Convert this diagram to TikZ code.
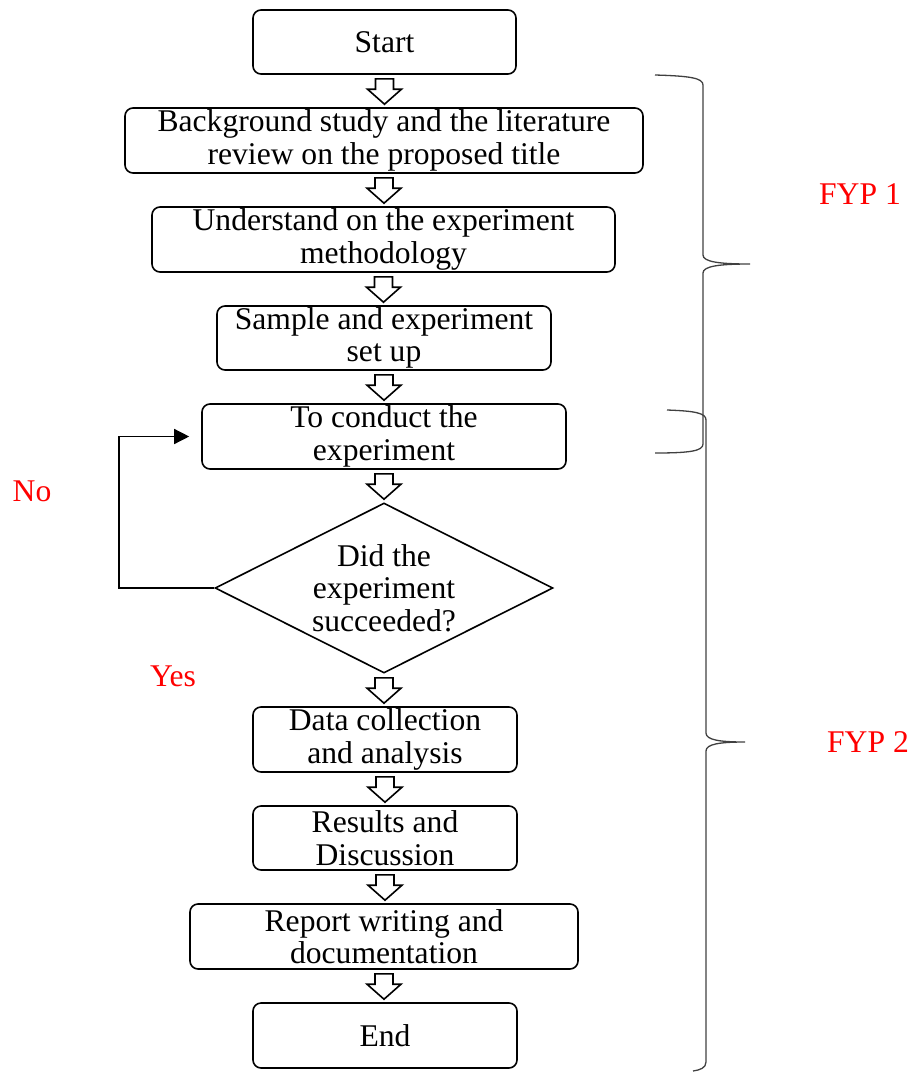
\documentclass[tikz,border=0pt]{standalone}
\usepackage{fontspec}
\setmainfont{Liberation Serif}
\usetikzlibrary{shapes.geometric,calc,arrows.meta}
\tikzset{
  base/.style={font=\fontsize{31.6pt}{32.5pt}\selectfont, align=center, inner sep=0pt},
  stepbox/.style={base, draw, line width=1.6pt, rounded corners=8pt},
  decision/.style={base, draw, line width=1.6pt, diamond, aspect=2, minimum width=338pt, minimum height=170pt},
  harr/.style={draw, line width=1.6pt, line join=miter, fill=white},
  brace/.style={draw=black!75, line width=1.3pt},
  redlabel/.style={base, text=red},
  loopline/.style={draw, line width=1.4pt, -{Triangle[length=15pt,width=15pt]}, shorten >=12pt}
}
\newcommand{\hollowarr}[2]{%
  \path[harr] let \p1=(#1.south), \p2=(#2.north) in
  (\x1-9pt,\y1-4pt) -- (\x1+9pt,\y1-4pt) -- (\x1+9pt,\y2+18pt) -- (\x1+17pt,\y2+18pt)
  -- (\x1,\y2+3pt) -- (\x1-17pt,\y2+18pt) -- (\x1-9pt,\y2+18pt) -- cycle;}
\begin{document}
\begin{tikzpicture}[x=1pt,y=1pt]
\useasboundingbox (0,0) rectangle (915,-1072);
\node[stepbox, minimum width=263pt, minimum height=64pt] (start) at (384.5,-42) {Start};
\node[stepbox, minimum width=518pt, minimum height=65pt] (bg) at (384,-140.5) {Background study and the literature\\review on the proposed title};
\node[stepbox, minimum width=463pt, minimum height=65pt] (und) at (383.5,-239.5) {Understand on the experiment\\methodology};
\node[stepbox, minimum width=334pt, minimum height=64pt] (samp) at (384,-338) {Sample and experiment\\set up};
\node[stepbox, minimum width=364pt, minimum height=65pt] (cond) at (384,-436.5) {To conduct the\\experiment};
\node[decision] (dia) at (384,-588) {Did the\\experiment\\succeeded?};
\node[stepbox, minimum width=264pt, minimum height=65pt] (data) at (385,-739.5) {Data collection\\and analysis};
\node[stepbox, minimum width=264pt, minimum height=64pt] (res) at (385,-838) {Results and\\Discussion};
\node[stepbox, minimum width=388pt, minimum height=65pt] (rep) at (384,-936.5) {Report writing and\\documentation};
\node[stepbox, minimum width=264pt, minimum height=65pt] (end) at (385,-1035.5) {End};

\hollowarr{start}{bg}
\hollowarr{bg}{und}
\hollowarr{und}{samp}
\hollowarr{samp}{cond}
\hollowarr{cond}{dia}
\hollowarr{dia}{data}
\hollowarr{data}{res}
\hollowarr{res}{rep}
\hollowarr{rep}{end}

\coordinate (loopx) at (119,-588);
\draw[loopline] (dia.west) -- (loopx) |- (cond.west);

\node[redlabel] (no) at (32,-491) {No};
\node[redlabel] (yes) at (173,-676) {Yes};
\node[redlabel] (fyp1) at (860,-194) {FYP 1};
\node[redlabel] (fyp2) at (868,-742) {FYP 2};

% brace FYP 1
\draw[brace] (655,-75) .. controls (690,-76) and (703,-78) .. (703,-85)
  -- (703,-255) .. controls (703,-262) and (720,-264) .. (750,-264)
  .. controls (720,-264) and (703,-266) .. (703,-273)
  -- (703,-444) .. controls (703,-451) and (690,-453) .. (655,-453);
% brace FYP 2
\draw[brace] (667,-410) .. controls (695,-411) and (706,-413) .. (706,-420)
  -- (706,-733) .. controls (706,-740) and (720,-742) .. (745,-742)
  .. controls (720,-742) and (706,-744) .. (706,-751)
  -- (706,-1062) .. controls (706,-1068) and (700,-1070) .. (693,-1071);
\end{tikzpicture}
\end{document}
